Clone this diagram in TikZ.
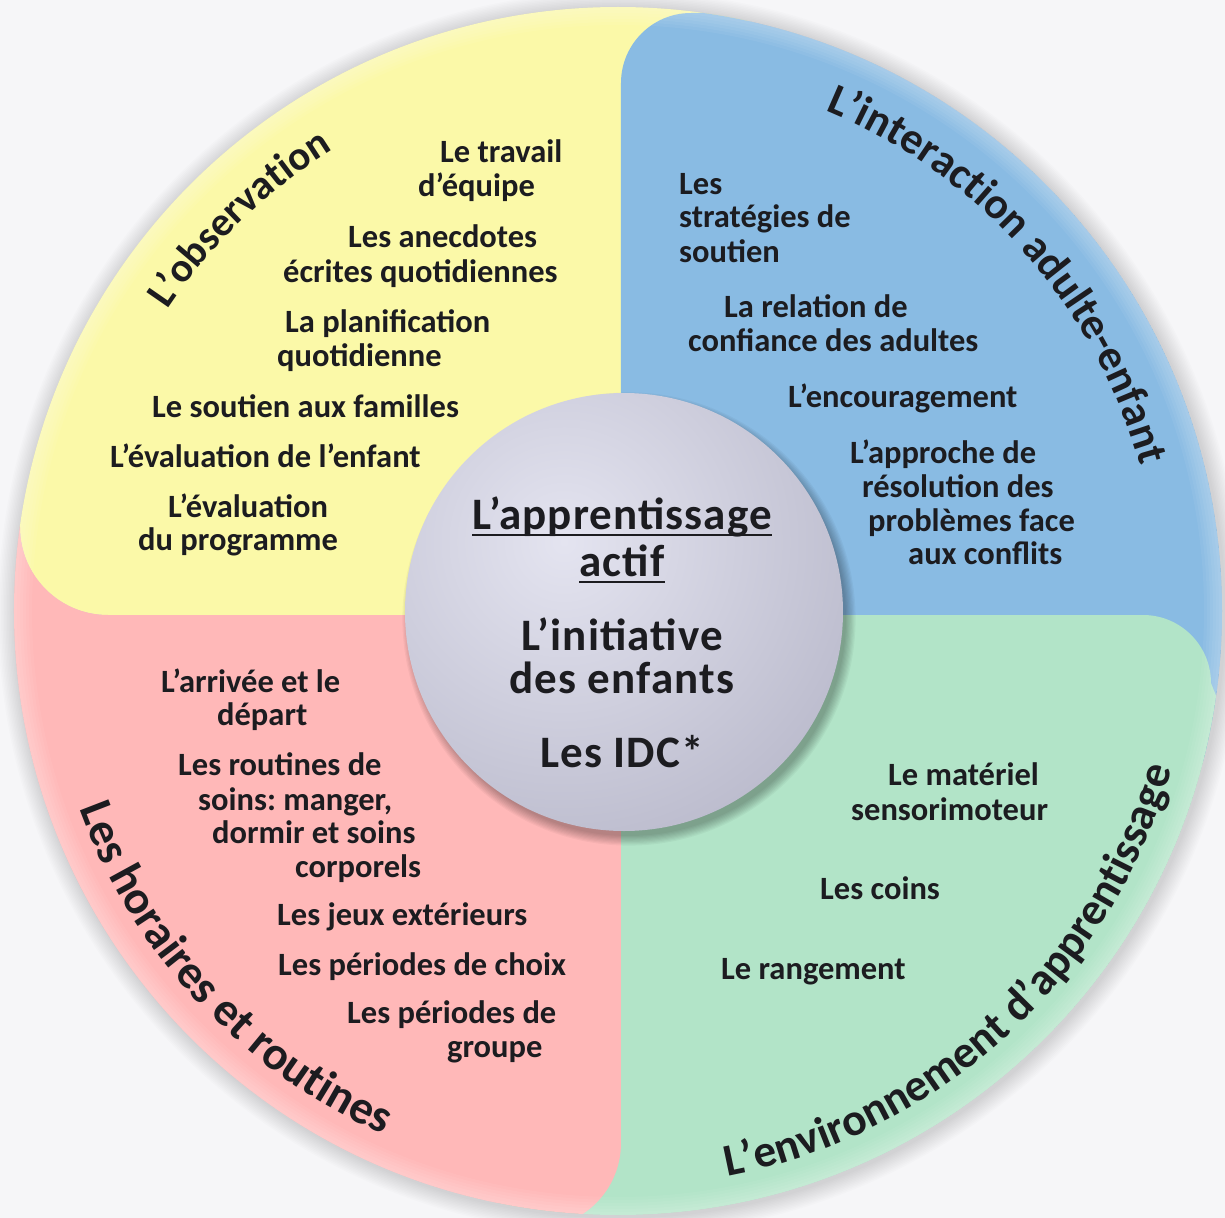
\documentclass[tikz,border=0pt]{standalone}
\usepackage{fontspec}
\setmainfont{Carlito}
\newfontfamily\hubfam{Carlito}[LetterSpace=2.5]
\usetikzlibrary{decorations.text}
\definecolor{qyellow}{RGB}{251,249,168}
\definecolor{qblue}{RGB}{137,187,227}
\definecolor{qgreen}{RGB}{178,228,200}
\definecolor{qpink}{RGB}{255,184,184}
\definecolor{txt}{RGB}{28,28,32}
\definecolor{hubin}{RGB}{228,228,240}
\definecolor{hubout}{RGB}{170,170,190}
\definecolor{bgc}{RGB}{246,246,248}
\frenchspacing
\newcommand\itemfont{\fontsize{32.5bp}{34bp}\selectfont\bfseries}
\newcommand\hubfont{\hubfam\fontsize{45bp}{46bp}\selectfont\bfseries}
\newcommand\tfobs{\fontsize{41bp}{42bp}\selectfont\bfseries}
\newcommand\tfint{\fontsize{44bp}{45bp}\selectfont\bfseries}
\newcommand\tfenv{\fontsize{45.5bp}{46bp}\selectfont\bfseries}
\newcommand\tfhor{\fontsize{47bp}{48bp}\selectfont\bfseries}
\begin{document}
\begin{tikzpicture}[x=1bp,y=1bp,
  item/.style={anchor=base west, inner sep=0pt, font=\itemfont, text=txt},
  hubtext/.style={anchor=base, inner sep=0pt, font=\hubfont, text=txt},
  arctitle/.style={decorate, decoration={text along path, text align={align=center}, text color=txt}}]
\useasboundingbox[fill=bgc] (-618,-607) rectangle (607,611);
% soft halo
\foreach \i in {1,...,12} \fill[black, opacity=0.012] (2,-2) circle ({604+1.5*\i});
% quadrants
\begin{scope}
\clip (0,0) circle (604);
\fill[qyellow] (130,-4) -- (-510,-4) arc (270:180:88) -- (-620,200) -- (-620,700) -- (130,700) -- cycle;
\fill[qblue] (3,-150) -- (3,528) arc (180:90:70) -- (700,598) -- (700,-150) -- cycle;
\fill[qgreen] (-120,-4) -- (525,-4) arc (90:0:68) -- (620,-140) -- (620,-700) -- (-120,-700) -- cycle;
\fill[qpink] (3,-4) -- (-510,-4) arc (270:180:88) -- (-620,200) -- (-700,200) -- (-700,-617) -- (-82,-617) arc (270:360:85) -- cycle;
% light rim
\foreach \i in {1,...,6} \fill[white, opacity=0.05, even odd rule] (0,0) circle (604) (0,0) circle ({604-3*\i});
\end{scope}
% hub shadow
\foreach \i in {0,...,8} \fill[black, opacity=0.035] (11,-8) circle ({217+1.2*\i});
\node[circle, minimum size=438bp, inner sep=0pt,
  path picture={\shade[inner color=hubin, outer color=hubout] ([xshift=-60bp,yshift=70bp]path picture bounding box.center) circle (460bp);}] (hub) at (6,-1) {};
% hub texts
\node[hubtext] (ap) at (4,82) {L’apprentissage};
\node[hubtext] (act) at (4,35) {actif};
\draw[line width=2.8bp, txt] ([yshift=-6bp]ap.base west) -- ([yshift=-6bp]ap.base east);
\draw[line width=2.8bp, txt] ([yshift=-6bp]act.base west) -- ([yshift=-6bp]act.base east);
\node[hubtext] (ini) at (4,-39) {L’initiative};
\node[hubtext] (enf) at (4,-82) {des enfants};
\node[hubtext] (idc) at (4,-156) {Les IDC*};
% titles on arcs
\path[arctitle, decoration={text={|\tfobs|L’observation}}] (176:542) arc (176:92:542);
\path[arctitle, decoration={text={|\tfint|L’interaction adulte-enfant}}] (90:542) arc (90:-7:542);
\path[arctitle, decoration={text={|\tfenv|L’environnement d’apprentissage}}] (-105:576) arc (-105:10:576);
\path[arctitle, decoration={text={|\tfhor|Les horaires et routines}}] (173:574) arc (173:273:574);
% yellow items
\node[item] (y1) at (-178,448) {Le travail};
\node[item] (y2) at (-200,414) {d’équipe};
\node[item] (y3) at (-270,363) {Les anecdotes};
\node[item] (y4) at (-335,328) {écrites quotidiennes};
\node[item] (y5) at (-333,278) {La planification};
\node[item] (y6) at (-341,244) {quotidienne};
\node[item] (y7) at (-466,194) {Le soutien aux familles};
\node[item] (y8) at (-508,144) {L’évaluation de l’enfant};
\node[item] (y9) at (-450,94) {L’évaluation};
\node[item] (y10) at (-480,61) {du programme};
% blue items
\node[item] (b1) at (61,416) {Les};
\node[item] (b2) at (61,383) {stratégies de};
\node[item] (b3) at (61,348) {soutien};
\node[item] (b4) at (106,293) {La relation de};
\node[item] (b5) at (70,259) {confiance des adultes};
\node[item] (b6) at (170,204) {L’encouragement};
\node[item] (b7) at (232,148) {L’approche de};
\node[item] (b8) at (244,114) {résolution des};
\node[item] (b9) at (250,80) {problèmes face};
\node[item] (b10) at (290,47) {aux conflits};
% pink items
\node[item] (p1) at (-457,-81) {L’arrivée et le};
\node[item] (p2) at (-401,-114) {départ};
\node[item] (p3) at (-440,-164) {Les routines de};
\node[item] (p4) at (-420,-199) {soins: manger,};
\node[item] (p5) at (-406,-232) {dormir et soins};
\node[item] (p6) at (-323,-266) {corporels};
\node[item] (p7) at (-341,-314) {Les jeux extérieurs};
\node[item] (p8) at (-340,-364) {Les périodes de choix};
\node[item] (p9) at (-271,-412) {Les périodes de};
\node[item] (p10) at (-171,-446) {groupe};
% green items
\node[item] (g1) at (270,-174) {Le matériel};
\node[item] (g2) at (233,-209) {sensorimoteur};
\node[item] (g3) at (202,-288) {Les coins};
\node[item] (g4) at (103,-368) {Le rangement};
\end{tikzpicture}
\end{document}
